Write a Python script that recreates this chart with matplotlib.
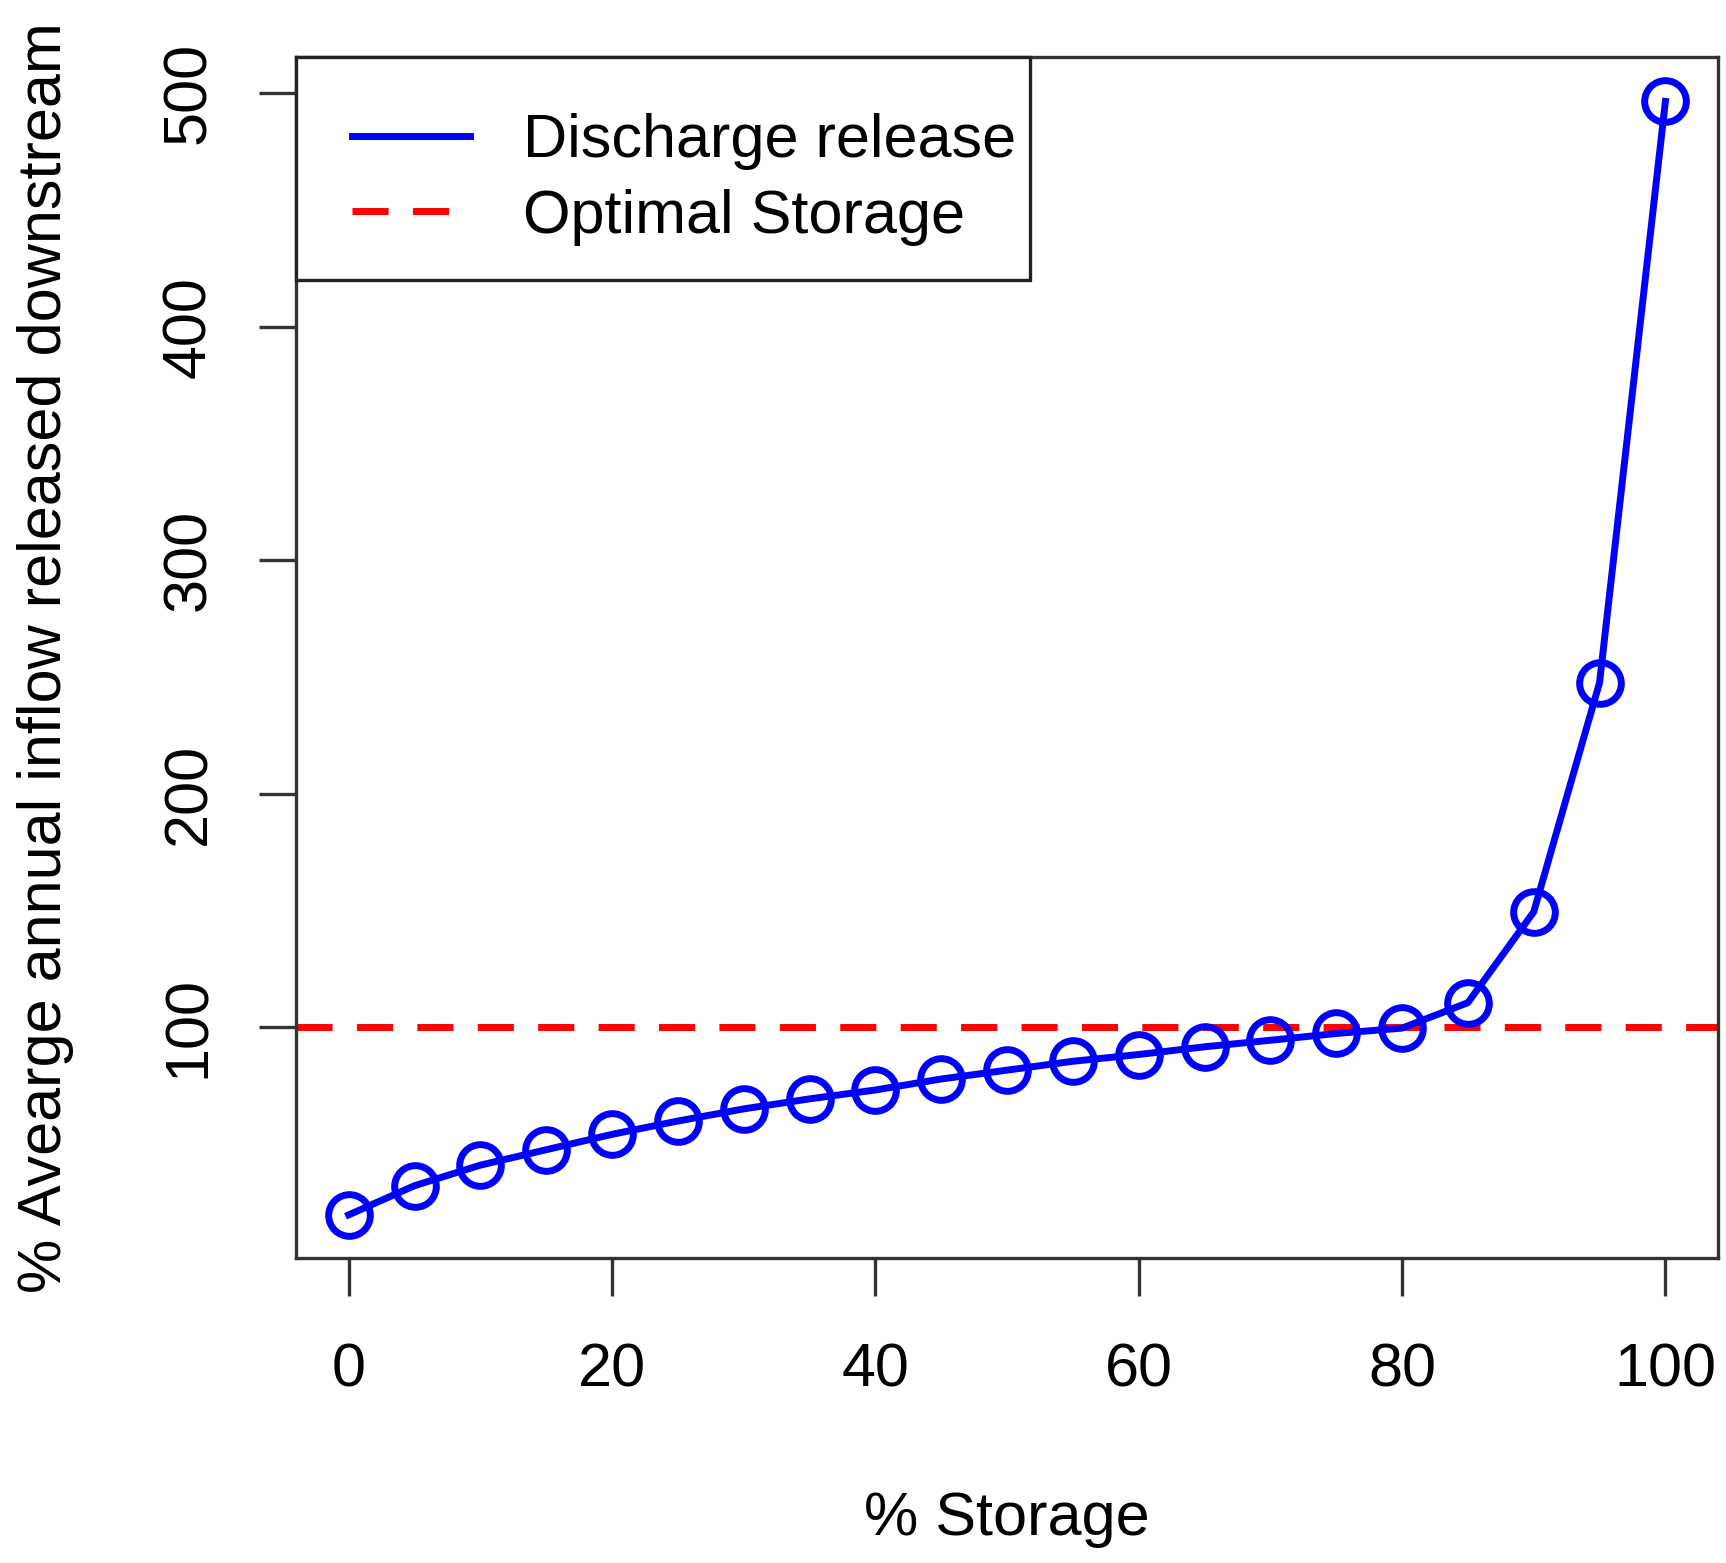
import matplotlib
matplotlib.use("Agg")
import matplotlib.pyplot as plt
from matplotlib.patches import Rectangle

storage = [0, 5, 10, 15, 20, 25, 30, 35, 40, 45, 50, 55, 60, 65, 70, 75, 80, 85, 90, 95, 100]
release = [19.5, 32, 40.8, 47.4, 54, 59.7, 64.9, 69.2, 73, 77.7, 81.5, 85.3, 88.2, 91.5, 94.3,
           97.2, 99.5, 110.4, 149.3, 247.5, 496.5]
optimal = 100
xticks = [0, 20, 40, 60, 80, 100]
yticks = [100, 200, 300, 400, 500]

plt.rcParams['font.family'] = ['Liberation Sans', 'DejaVu Sans']

fig = plt.figure(figsize=(17.26, 15.63), dpi=100)
ax = fig.add_axes([0.1715, 0.1951, 0.8239, 0.7684])

ax.plot(storage, release, color='blue', lw=5, marker='o', ms=30, mfc='none',
        mec='blue', mew=5, label='Discharge release', zorder=3)
ax.axhline(optimal, color='red', lw=5, dashes=(5.2, 3.5), label='Optimal Storage', zorder=2)

ax.set_xlim(-4, 104)
ax.set_ylim(1, 515.5)
ax.set_xticks(xticks)
ax.set_yticks(yticks)
ax.set_xticklabels([str(v) for v in xticks], fontsize=44)
ax.set_yticklabels([str(v) for v in yticks], fontsize=44, rotation=90, va='center')
ax.tick_params(axis='both', length=27, width=2.4, color='#333333')
ax.tick_params(axis='x', pad=34)
ax.tick_params(axis='y', pad=29)

for s in ax.spines.values():
    s.set_linewidth(2.4)
    s.set_color('#333333')

ax.set_xlabel('% Storage', fontsize=44, labelpad=66)
ax.set_ylabel('% Avearge annual inflow released downstream', fontsize=44, labelpad=63)

# legend box drawn separately so its width matches the R one
leg = ax.legend(loc='upper left', bbox_to_anchor=(0, 1), borderaxespad=0, fontsize=44,
                handlelength=1.93, handletextpad=0.87, borderpad=0.92, labelspacing=0.3,
                frameon=False)
leg.set_zorder(5)
for h in leg.legend_handles:
    h.set_marker('')
ax.add_patch(Rectangle((0, 0.814), 0.516, 0.186, transform=ax.transAxes,
                       facecolor='white', edgecolor='#222222', lw=2.4, zorder=4,
                       clip_on=False))

fig.savefig('out.png', dpi=100)
